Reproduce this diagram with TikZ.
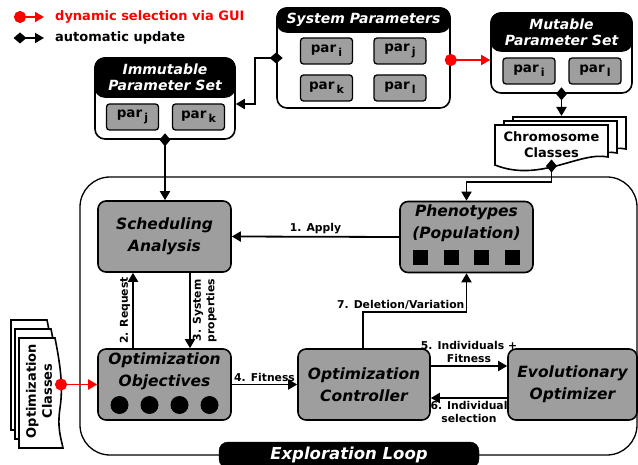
\documentclass[tikz,border=0pt]{standalone}
\usepackage{fontspec}
\setmainfont{DejaVu Sans}
\usetikzlibrary{arrows.meta}

\newcommand{\parsub}[1]{par\,\raisebox{-0.5ex}{\fontsize{11pt}{11pt}\selectfont #1}}

\begin{document}
\begin{tikzpicture}[x=1pt, y=-1pt,
    setbox/.style={draw, fill=white, line width=1.6pt, rounded corners=10pt, inner sep=0pt},
    sethead/.style={draw, fill=black, text=white, line width=1.6pt, rounded corners=10pt,
        inner sep=0pt, align=center, font=\fontsize{14pt}{16pt}\selectfont\bfseries\itshape},
    parbox/.style={draw, fill=boxgray, line width=1.3pt, rounded corners=3pt, inner sep=0pt,
        minimum width=52pt, minimum height=26pt, font=\fontsize{13.5pt}{15pt}\selectfont\bfseries},
    stage/.style={draw, fill=boxgray, line width=1.6pt, rounded corners=8pt, inner sep=0pt,
        minimum width=133pt, minimum height=71pt, align=center,
        font=\fontsize{15.5pt}{22pt}\selectfont\bfseries\itshape},
    stagetxt/.style={align=center, inner sep=0pt, font=\fontsize{15.5pt}{22pt}\selectfont\bfseries\itshape},
    docline/.style={draw, fill=white, line width=1.6pt},
    doclbl/.style={align=center, inner sep=0pt, font=\fontsize{13pt}{16pt}\selectfont\bfseries},
    flow/.style={line width=1.8pt, -{Triangle[length=9pt, width=10pt]}},
    update/.style={flow, {Diamond[length=13pt, width=11pt]}-{Triangle[length=9pt, width=10pt]},
        shorten <=-6.5pt},
    gui/.style={flow, red, {Circle[length=12pt]}-{Triangle[length=9pt, width=10pt]},
        shorten <=-6pt},
    flowlbl/.style={align=center, inner sep=2pt, font=\fontsize{10.8pt}{13.5pt}\selectfont\bfseries},
    legend/.style={anchor=west, inner sep=0pt, font=\fontsize{13pt}{15pt}\selectfont\bfseries}]
    \definecolor{boxgray}{gray}{0.62}

    \useasboundingbox (0,0) rectangle (638,465);

    % legend
    \coordinate (guia) at (20,17);
    \coordinate (guib) at (44,17);
    \draw[gui] (guia) -- (guib);
    \node[legend, text=red] (guitxt) at (55,17) {dynamic selection via GUI};
    \coordinate (upda) at (20,38);
    \coordinate (updb) at (44,38);
    \draw[update] (upda) -- (updb);
    \node[legend] (updtxt) at (55,38) {automatic update};

    % parameter sets
    \node[setbox, minimum width=173pt, minimum height=100pt] (sysbox) at (363.5,58) {};
    \node[sethead, minimum width=173pt, minimum height=24pt, anchor=north] (syshead) at (sysbox.north) {System Parameters};
    \node[parbox] (sysi) at (326.5,51) {\parsub{i}};
    \node[parbox] (sysj) at (400,51)   {\parsub{j}};
    \node[parbox] (sysk) at (326.5,88) {\parsub{k}};
    \node[parbox] (sysl) at (400,88)   {\parsub{l}};

    \node[setbox, minimum width=140pt, minimum height=81pt] (immbox) at (165,98.5) {};
    \node[sethead, minimum width=140pt, minimum height=39pt, anchor=north] (immhead) at (immbox.north) {Immutable\\Parameter Set};
    \node[parbox] (immj) at (132.5,117) {\parsub{j}};
    \node[parbox] (immk) at (198.5,117) {\parsub{k}};

    \node[setbox, minimum width=141pt, minimum height=80pt] (mutbox) at (561.5,53) {};
    \node[sethead, minimum width=141pt, minimum height=38pt, anchor=north] (muthead) at (mutbox.north) {Mutable\\Parameter Set};
    \node[parbox] (muti) at (529,71) {\parsub{i}};
    \node[parbox] (mutl) at (595,71) {\parsub{l}};

    % chromosome classes (stacked documents)
    \begin{scope}[shift={(513,117)}]
        \path[docline] (0,0) -- (113,0) -- (113,32) .. controls (85,26) and (45,58) .. (0,40) -- cycle;
    \end{scope}
    \begin{scope}[shift={(504,121)}]
        \path[docline] (0,0) -- (113,0) -- (113,32) .. controls (85,26) and (45,58) .. (0,40) -- cycle;
    \end{scope}
    \begin{scope}[shift={(495,125)}]
        \path[docline] (0,0) -- (113,0) -- (113,32) .. controls (85,26) and (45,58) .. (0,40) -- cycle;
    \end{scope}
    \node[doclbl] (chrom) at (551.5,144.5) {Chromosome\\Classes};
    \coordinate (chromtop) at (561.5,116);
    \coordinate (chrombase) at (551.5,166);

    % optimization classes (stacked documents)
    \begin{scope}[shift={(11,320)}]
        \path[docline] (0,0) -- (36,0) .. controls (42,30) and (44,50) .. (41,70) .. controls (38,90) and (42,100) .. (44,110) -- (0,110) -- cycle;
    \end{scope}
    \begin{scope}[shift={(15,329)}]
        \path[docline] (0,0) -- (36,0) .. controls (42,30) and (44,50) .. (41,70) .. controls (38,90) and (42,100) .. (44,110) -- (0,110) -- cycle;
    \end{scope}
    \begin{scope}[shift={(19,338)}]
        \path[docline] (0,0) -- (36,0) .. controls (42,30) and (44,50) .. (41,70) .. controls (38,90) and (42,100) .. (44,110) -- (0,110) -- cycle;
    \end{scope}
    \node[doclbl, rotate=90] (optcls) at (39,391) {Optimization\\Classes};
    \coordinate (optdot) at (61,384.5);

    % exploration loop
    \node[draw, line width=1.3pt, rounded corners=30pt, minimum width=557pt, minimum height=278pt] (loop) at (358.5,316) {};

    \node[stage] (sched) at (164.5,236.5) {Scheduling\\Analysis};
    \node[stage] (pheno) at (466.5,237) {};
    \node[stagetxt] (phenotxt) at (466.5,223) {Phenotypes\\(Population)};
    \node[stage] (obj) at (164.5,384.5) {};
    \node[stagetxt] (objtxt) at (164.5,371) {Optimization\\Objectives};
    \node[stage, minimum width=132pt] (ctrl) at (364,384.5) {Optimization\\Controller};
    \node[stage, minimum width=129pt] (evo) at (572.5,384.5) {Evolutionary\\Optimizer};

    % individuals and objectives
    \begin{scope}[shift={(pheno.center)}]
        \fill (-53.5,13) rectangle (-38.5,28);
        \fill (-22.5,13) rectangle (-7.5,28);
        \fill (7.5,13) rectangle (22.5,28);
        \fill (38.5,13) rectangle (53.5,28);
    \end{scope}
    \begin{scope}[shift={(obj.center)}]
        \fill (-45,20.5) circle[radius=9pt];
        \fill (-15,20.5) circle[radius=9pt];
        \fill (15,20.5) circle[radius=9pt];
        \fill (45,20.5) circle[radius=9pt];
    \end{scope}

    \node[draw, fill=black, text=white, rounded corners=9pt, minimum width=260pt, minimum height=26pt,
          inner sep=0pt, font=\fontsize{16.5pt}{18pt}\selectfont\bfseries\itshape] (looplbl) at (349,455) {Exploration Loop};

    % automatic updates and GUI selections
    \draw[update] (sysbox.west) -- ++(-21,0) |- ([yshift=-5.5pt]immbox.east);
    \draw[gui] ([yshift=-2pt]sysbox.east) -- ([yshift=-2pt]sysbox.east -| mutbox.west);
    \draw[update] (mutbox.south) -- (chromtop);
    \draw[update] (immbox.south) -- (immbox.south |- sched.north);
    \draw[update] (chrombase) -- ++(0,16) -| (pheno.north);
    \draw[gui] (optdot) -- (optdot -| obj.west);

    % loop steps
    \draw[flow] (pheno.west) -- node[flowlbl, above] (lbl1) {1. Apply} (sched.east);
    \draw[flow] ([xshift=-31.5pt]obj.north) -- node[flowlbl, rotate=90, anchor=south] (lbl2) {2. Request} ([xshift=-31.5pt]sched.south);
    \draw[flow] ([xshift=25.5pt]sched.south) -- node[flowlbl, rotate=90, anchor=north] (lbl3) {3. System\\properties} ([xshift=25.5pt]obj.north);
    \draw[flow] (obj.east) -- node[flowlbl, above] (lbl4) {4. Fitness} (ctrl.west);
    \draw[flow] ([yshift=18.5pt]ctrl.east) -- node[flowlbl, above] (lbl5) {5. Individuals +\\Fitness} ([yshift=18.5pt]evo.west);
    \draw[flow] ([yshift=-13.5pt]evo.west) -- node[flowlbl, below] (lbl6) {6. Individual\\selection} ([yshift=-13.5pt]ctrl.east);
    \draw[flow] ([xshift=-1pt]ctrl.north) -- ++(0,-36) coordinate (bend7) -| node[flowlbl, above, pos=0.25, xshift=-14pt] (lbl7) {7. Deletion/Variation} (pheno.south);
\end{tikzpicture}
\end{document}
